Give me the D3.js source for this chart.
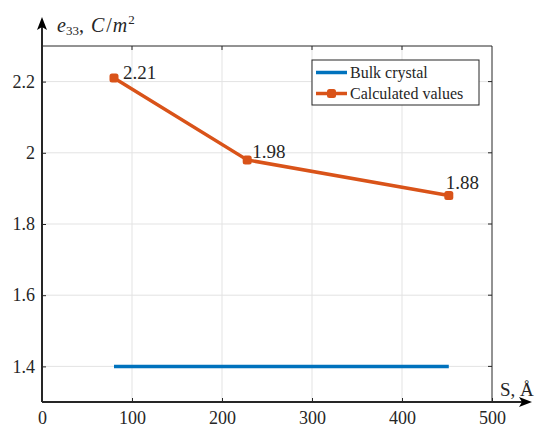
<!DOCTYPE html>
<html>
<head>
<meta charset="utf-8">
<script src="https://cdn.jsdelivr.net/npm/d3@7"></script>
<style>
  body { margin: 0; background: #fff; }
  svg text { font-family: "Liberation Serif", "Times New Roman", serif; fill: #262626; }
</style>
</head>
<body>
<svg id="chart"></svg>
<script>
const width = 542;
const height = 429;

// chart data
const sizes = [80, 228, 452];          // S, Å
const calculated = [2.21, 1.98, 1.88]; // e33, C/m^2
const bulkX = [80, 452];
const bulkValue = 1.4;
const xTicks = [0, 100, 200, 300, 400, 500];
const yTicks = [1.4, 1.6, 1.8, 2, 2.2];
const seriesNames = ["Bulk crystal", "Calculated values"];

// label offsets (px) for the value annotations
const labelDx = [9, 5, -3];
const labelDy = [1, -2, -7];

const blue = "#0072BD";
const orange = "#D95319";
const axisColor = "#262626";
const serif = "'Liberation Serif', 'Times New Roman', serif";

const margin = { left: 42, right: 50, top: 46, bottom: 27 };

const svg = d3.select("#chart")
    .attr("width", width)
    .attr("height", height);

const x = d3.scaleLinear().domain([0, 500]).range([margin.left, width - margin.right]);
const y = d3.scaleLinear().domain([1.3, 2.3]).range([height - margin.bottom, margin.top]);

const x0 = x.range()[0], x1 = x.range()[1];
const y0 = y.range()[0], y1 = y.range()[1];

// grid
svg.append("g").selectAll("line")
    .data(xTicks.slice(1, -1))
    .join("line")
    .attr("x1", d => x(d)).attr("x2", d => x(d))
    .attr("y1", y0).attr("y2", y1)
    .attr("stroke", "#e3e3e3").attr("stroke-width", 1);

svg.append("g").selectAll("line")
    .data(yTicks)
    .join("line")
    .attr("x1", x0).attr("x2", x1)
    .attr("y1", d => y(d)).attr("y2", d => y(d))
    .attr("stroke", "#e3e3e3").attr("stroke-width", 1);

// box top + right with inward ticks
svg.append("line").attr("x1", x0).attr("x2", x1).attr("y1", y1).attr("y2", y1)
    .attr("stroke", axisColor).attr("stroke-width", 1);
svg.append("line").attr("x1", x1).attr("x2", x1).attr("y1", y1).attr("y2", y0)
    .attr("stroke", axisColor).attr("stroke-width", 1);
svg.append("g").selectAll("line")
    .data(xTicks.slice(1, -1))
    .join("line")
    .attr("x1", d => x(d)).attr("x2", d => x(d))
    .attr("y1", y1).attr("y2", y1 + 4)
    .attr("stroke", axisColor);
svg.append("g").selectAll("line")
    .data(yTicks)
    .join("line")
    .attr("x1", x1 - 4).attr("x2", x1)
    .attr("y1", d => y(d)).attr("y2", d => y(d))
    .attr("stroke", axisColor);

// bottom axis
const xAxis = svg.append("g")
    .attr("transform", `translate(0,${y0})`)
    .call(d3.axisBottom(x).tickValues(xTicks).tickSize(-4).tickPadding(9).tickFormat(d3.format("d")));
xAxis.attr("font-family", serif).attr("font-size", 18);
xAxis.select(".domain").remove();
xAxis.selectAll(".tick line").attr("stroke", axisColor);
xAxis.selectAll(".tick text").attr("fill", axisColor);

// left axis
const yAxis = svg.append("g")
    .attr("transform", `translate(${x0},0)`)
    .call(d3.axisLeft(y).tickValues(yTicks).tickSize(-4).tickPadding(7).tickFormat(d => d3.format("~g")(d)));
yAxis.attr("font-family", serif).attr("font-size", 18);
yAxis.select(".domain").remove();
yAxis.selectAll(".tick line").attr("stroke", axisColor);
yAxis.selectAll(".tick text").attr("fill", axisColor);

// thick axis lines with arrows
svg.append("line").attr("x1", x0).attr("x2", 524).attr("y1", y0).attr("y2", y0)
    .attr("stroke", axisColor).attr("stroke-width", 2);
svg.append("path")
    .attr("d", `M532,${y0} L519,${y0 - 5} L522,${y0} L519,${y0 + 5} Z`)
    .attr("fill", "#000");
svg.append("line").attr("x1", x0).attr("x2", x0).attr("y1", y0).attr("y2", 25)
    .attr("stroke", axisColor).attr("stroke-width", 2);
svg.append("path")
    .attr("d", `M${x0},17 L${x0 - 5},30 L${x0},27 L${x0 + 5},30 Z`)
    .attr("fill", "#000");

// axis titles
const yTitle = svg.append("text").attr("x", 57).attr("y", 32)
    .attr("font-family", serif).attr("font-size", 20).attr("fill", "#222");
yTitle.append("tspan").attr("font-style", "italic").text("e");
yTitle.append("tspan").attr("font-size", 13).attr("dy", 3).text("33");
yTitle.append("tspan").attr("dy", -3).text(", ");
yTitle.append("tspan").attr("font-style", "italic").attr("dx", 2).text("C");
yTitle.append("tspan").attr("dx", 2).text("/");
yTitle.append("tspan").attr("font-style", "italic").attr("dx", 1).text("m");
yTitle.append("tspan").attr("font-size", 13).attr("dy", -8).attr("dx", 1).text("2");

svg.append("text").attr("x", 500).attr("y", 396)
    .attr("font-family", serif).attr("font-size", 19).attr("fill", "#444").text("S, Å");

// series
svg.append("line")
    .attr("x1", x(bulkX[0])).attr("x2", x(bulkX[1]))
    .attr("y1", y(bulkValue)).attr("y2", y(bulkValue))
    .attr("stroke", blue).attr("stroke-width", 3.5);

const pts = sizes.map((s, i) => [s, calculated[i]]);
svg.append("path")
    .datum(pts)
    .attr("d", d3.line().x(d => x(d[0])).y(d => y(d[1])))
    .attr("fill", "none").attr("stroke", orange).attr("stroke-width", 3.5);

svg.append("g").selectAll("rect")
    .data(pts)
    .join("rect")
    .attr("x", d => x(d[0]) - 4.5).attr("y", d => y(d[1]) - 4.5)
    .attr("width", 9).attr("height", 9).attr("rx", 2.5)
    .attr("fill", orange);

svg.append("g").selectAll("text")
    .data(pts)
    .join("text")
    .attr("x", (d, i) => x(d[0]) + labelDx[i]).attr("y", (d, i) => y(d[1]) + labelDy[i])
    .attr("font-family", serif)
    .attr("font-size", 19)
    .attr("fill", "#111")
    .text(d => d[1].toFixed(2));

// legend
const legend = svg.append("g").attr("transform", "translate(312,60)");
legend.append("rect").attr("width", 167).attr("height", 45)
    .attr("fill", "#fff").attr("stroke", axisColor).attr("stroke-width", 1);
const legendColors = [blue, orange];
seriesNames.forEach((name, i) => {
    const ly = 12.5 + i * 21;
    legend.append("line").attr("x1", 4).attr("x2", 35).attr("y1", ly).attr("y2", ly)
        .attr("stroke", legendColors[i]).attr("stroke-width", 3.5);
    if (i === 1) {
        legend.append("rect").attr("x", 15).attr("y", ly - 4.5).attr("width", 9).attr("height", 9)
            .attr("rx", 2.5).attr("fill", orange);
    }
    legend.append("text").attr("x", 38).attr("y", ly + 5.5)
        .attr("font-family", serif).attr("font-size", 16).text(name);
});
</script>
</body>
</html>
